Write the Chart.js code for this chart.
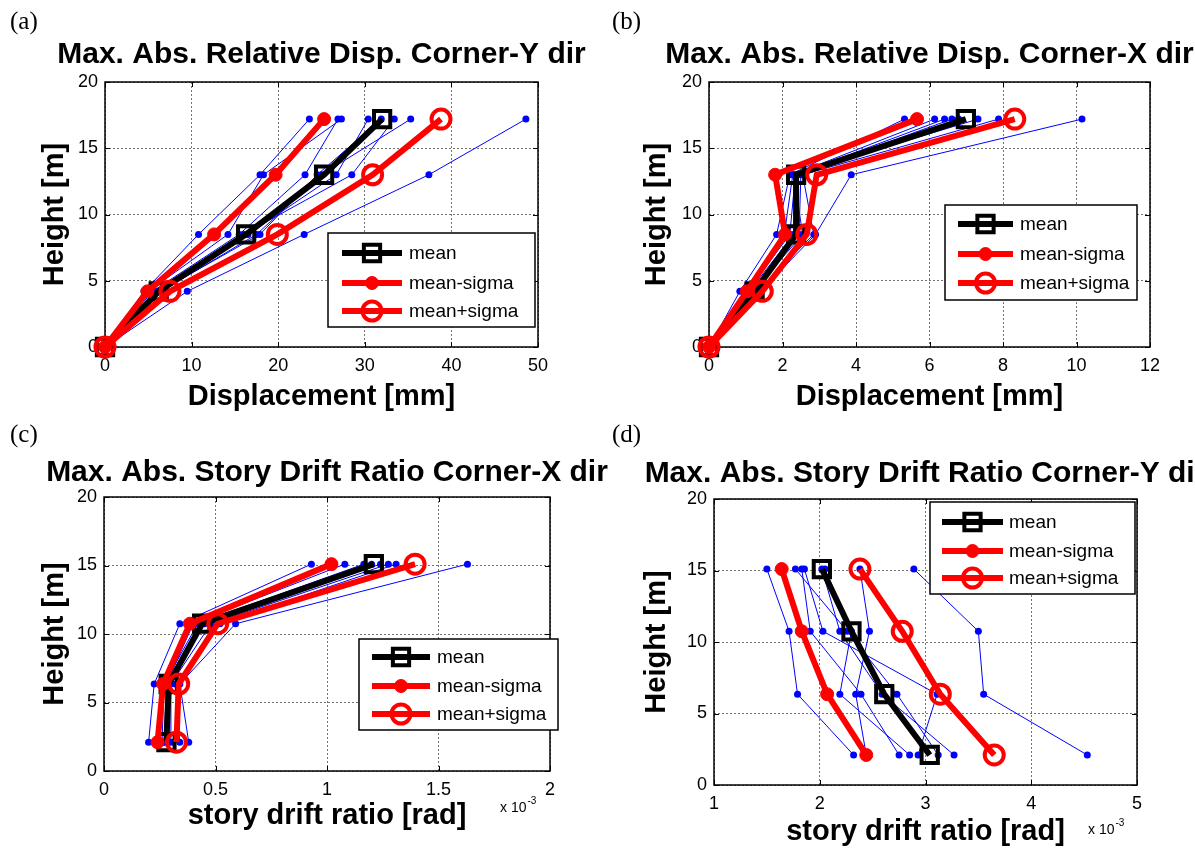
<!DOCTYPE html>
<html>
<head>
<meta charset="utf-8">
<title>Max. Abs. Relative Disp. / Story Drift Ratio</title>
<script src="https://cdn.jsdelivr.net/npm/chart.js@4.4.1/dist/chart.umd.min.js"></script>
<style>
    html, body { margin: 0; padding: 0; background: #ffffff; }
    #page { position: relative; width: 1195px; height: 852px; overflow: hidden; background: #ffffff; }
    #page canvas { position: absolute; left: 0; top: 0; }
    .tag { position: absolute; font-family: "Liberation Serif", "Times New Roman", serif; font-size: 25px; line-height: 1; color: #000; }
</style>
</head>
<body>
<div id="page">
    <canvas id="chartA" width="1195" height="852"></canvas>
    <canvas id="chartB" width="1195" height="852"></canvas>
    <canvas id="chartC" width="1195" height="852"></canvas>
    <canvas id="chartD" width="1195" height="852"></canvas>
    <div class="tag" style="left:10px;top:8px">(a)</div>
    <div class="tag" style="left:612px;top:8px">(b)</div>
    <div class="tag" style="left:10px;top:421px">(c)</div>
    <div class="tag" style="left:612px;top:421px">(d)</div>
</div>
<script>
// ===================================
// Data
// ===================================

// floor heights [m] and mid-story heights [m]
const dispHeights = [0, 4.2, 8.5, 13.0, 17.2];
const driftHeights = [2.1, 6.35, 10.75, 15.1];

const heightTicks = [0, 5, 10, 15, 20];
const dispYTicks = [0, 10, 20, 30, 40, 50];
const dispXTicks = [0, 2, 4, 6, 8, 10, 12];
const driftXTicks = [0, 0.5, 1, 1.5, 2];
const driftYTicks = [1, 2, 3, 4, 5];

const legendLabels = ['mean', 'mean-sigma', 'mean+sigma'];

// (a) relative displacement, corner Y dir [mm]
const dispYMean  = [0, 6.2, 16.3, 25.3, 32.0];
const dispYMinus = [0, 4.9, 12.6, 19.7, 25.3];
const dispYPlus  = [0, 7.5, 19.9, 30.9, 38.8];
const dispYRecords = [
    [0, 4.5, 10.8, 17.9, 23.6],
    [0, 5.0, 14.2, 18.3, 27.3],
    [0, 5.5, 15.5, 23.1, 26.9],
    [0, 6.0, 16.5, 26.7, 30.4],
    [0, 6.5, 17.5, 25.0, 35.3],
    [0, 5.8, 16.0, 28.5, 33.4],
    [0, 6.3, 17.9, 24.5, 31.9],
    [0, 9.5, 23.0, 37.4, 48.6]
];

// (b) relative displacement, corner X dir [mm]
const dispXMean  = [0, 1.24, 2.37, 2.37, 6.99];
const dispXMinus = [0, 1.03, 2.07, 1.80, 5.66];
const dispXPlus  = [0, 1.45, 2.66, 2.93, 8.32];
const dispXRecords = [
    [0, 0.84, 1.84, 2.20, 5.32],
    [0, 1.00, 2.05, 2.28, 6.14],
    [0, 1.05, 2.20, 2.35, 6.41],
    [0, 1.10, 2.30, 2.40, 6.61],
    [0, 1.15, 2.45, 2.50, 6.79],
    [0, 1.20, 2.55, 2.30, 7.32],
    [0, 1.30, 2.85, 2.55, 7.88],
    [0, 1.40, 2.90, 3.87, 10.15]
];

// (c) story drift ratio, corner X dir [x 10^-3 rad]
const driftXMean  = [0.28, 0.29, 0.44, 1.21];
const driftXMinus = [0.24, 0.265, 0.385, 1.02];
const driftXPlus  = [0.325, 0.335, 0.51, 1.395];
const driftXRecords = [
    [0.20, 0.225, 0.34, 0.93],
    [0.24, 0.26, 0.395, 1.08],
    [0.26, 0.27, 0.42, 1.165],
    [0.27, 0.28, 0.40, 1.20],
    [0.28, 0.29, 0.45, 1.24],
    [0.30, 0.30, 0.48, 1.275],
    [0.34, 0.32, 0.52, 1.31],
    [0.38, 0.34, 0.59, 1.63]
];

// (d) story drift ratio, corner Y dir [x 10^-3 rad]
const driftYMean  = [3.04, 2.61, 2.30, 2.02];
const driftYMinus = [2.44, 2.07, 1.83, 1.64];
const driftYPlus  = [3.65, 3.14, 2.78, 2.38];
const driftYRecords = [
    [2.32, 1.79, 1.71, 1.50],
    [3.12, 2.73, 2.26, 1.77],
    [2.75, 2.39, 1.91, 1.83],
    [2.93, 3.11, 2.03, 1.855],
    [3.27, 2.59, 2.19, 2.02],
    [2.85, 2.19, 2.30, 2.05],
    [2.44, 2.34, 2.47, 2.38],
    [4.53, 3.55, 3.50, 2.89]
];

// ===================================
// Styles
// ===================================

const FONT = '"Liberation Sans", Arial, Helvetica, sans-serif';
Chart.defaults.font.family = FONT;
Chart.defaults.color = '#000000';

const meanStyle  = { color: '#000000', lineWidth: 6, pointStyle: 'rect',   radius: 11.5, pointBorderWidth: 4, pointFill: 'rgba(0,0,0,0)' };
const minusStyle = { color: '#ff0000', lineWidth: 6, pointStyle: 'circle', radius: 6.5,  pointBorderWidth: 1, pointFill: '#ff0000' };
const plusStyle  = { color: '#ff0000', lineWidth: 6, pointStyle: 'circle', radius: 9.5,  pointBorderWidth: 4, pointFill: 'rgba(0,0,0,0)' };
const legendStyles = [meanStyle, minusStyle, plusStyle];

// ===================================
// Helpers
// ===================================

function pts(xs, ys) {
    return xs.map((v, i) => ({ x: v, y: ys[i] }));
}

function statDataset(label, xs, ys, st, order) {
    return {
        label: label,
        data: pts(xs, ys),
        showLine: true,
        borderColor: st.color,
        borderWidth: st.lineWidth,
        pointStyle: st.pointStyle,
        pointRadius: st.radius,
        pointBorderWidth: st.pointBorderWidth,
        pointBorderColor: st.color,
        pointBackgroundColor: st.pointFill,
        order: order,
        clip: false
    };
}

function recordDataset(xs, ys) {
    return {
        label: 'record',
        data: pts(xs, ys),
        showLine: true,
        borderColor: '#0000ff',
        borderWidth: 1,
        pointRadius: 3.5,
        pointBorderWidth: 0,
        pointBackgroundColor: '#0000ff',
        order: 3,
        clip: false
    };
}

function axisOptions(ticks, axis) {
    return {
        type: 'linear',
        position: axis === 'x' ? 'bottom' : 'left',
        min: ticks[0],
        max: ticks[ticks.length - 1],
        afterBuildTicks: s => { s.ticks = ticks.map(v => ({ value: v })); },
        afterFit: s => { if (axis === 'x') s.height = 50; else s.width = 50; },
        grid: { color: 'rgba(0,0,0,0.55)', lineWidth: 1, drawTicks: false },
        border: { display: false, dash: [2, 2] },
        ticks: {
            font: { size: 18 },
            color: '#000000',
            padding: axis === 'x' ? 8 : 7,
            maxRotation: 0,
            autoSkip: false,
            callback: v => String(v)
        }
    };
}

function drawMarker(ctx, st, x, y) {
    ctx.save();
    ctx.lineWidth = st.pointBorderWidth;
    ctx.strokeStyle = st.color;
    ctx.fillStyle = st.pointFill;
    ctx.beginPath();
    if (st.pointStyle === 'rect') {
        const s = st.radius * Math.SQRT1_2;
        ctx.rect(x - s, y - s, 2 * s, 2 * s);
    } else {
        ctx.arc(x, y, st.radius, 0, Math.PI * 2);
    }
    ctx.fill();
    ctx.stroke();
    ctx.restore();
}

// frame, inner ticks, legend box and texts (MATLAB look)
function decorPlugin(p) {
    return {
        id: 'decor',
        beforeDatasetsDraw(chart) {
            const ctx = chart.ctx;
            const a = chart.chartArea;
            const sx = chart.scales.x, sy = chart.scales.y;
            ctx.save();
            ctx.strokeStyle = '#000000';
            ctx.lineWidth = 1;
            ctx.beginPath();
            sx.ticks.forEach(t => {
                const px = Math.round(sx.getPixelForValue(t.value)) + 0.5;
                ctx.moveTo(px, a.bottom); ctx.lineTo(px, a.bottom - 5);
                ctx.moveTo(px, a.top); ctx.lineTo(px, a.top + 5);
            });
            sy.ticks.forEach(t => {
                const py = Math.round(sy.getPixelForValue(t.value)) + 0.5;
                ctx.moveTo(a.left, py); ctx.lineTo(a.left + 5, py);
                ctx.moveTo(a.right, py); ctx.lineTo(a.right - 5, py);
            });
            ctx.stroke();
            ctx.lineWidth = 1.5;
            ctx.strokeRect(a.left, a.top, a.right - a.left, a.bottom - a.top);
            ctx.restore();
        },
        afterDatasetsDraw(chart) {
            const ctx = chart.ctx;
            const L = p.legend;
            ctx.save();
            ctx.fillStyle = '#ffffff';
            ctx.fillRect(L.l, L.t, L.r - L.l, L.b - L.t);
            ctx.strokeStyle = '#000000';
            ctx.lineWidth = 1.5;
            ctx.strokeRect(L.l, L.t, L.r - L.l, L.b - L.t);
            legendStyles.forEach((st, i) => {
                const y = L.rows[i];
                ctx.beginPath();
                ctx.strokeStyle = st.color;
                ctx.lineWidth = st.lineWidth;
                ctx.moveTo(L.lineL, y);
                ctx.lineTo(L.lineR, y);
                ctx.stroke();
                drawMarker(ctx, st, (L.lineL + L.lineR) / 2, y);
                ctx.fillStyle = '#000000';
                ctx.font = '19px ' + FONT;
                ctx.textAlign = 'left';
                ctx.textBaseline = 'middle';
                ctx.fillText(legendLabels[i], L.textX, y + 1);
            });
            ctx.restore();
        },
        afterDraw(chart) {
            const ctx = chart.ctx;
            const a = chart.chartArea;
            const cx = (a.left + a.right) / 2;
            ctx.save();
            ctx.fillStyle = '#000000';
            ctx.textAlign = 'center';
            ctx.textBaseline = 'alphabetic';
            ctx.font = 'bold 30px ' + FONT;
            ctx.fillText(p.title, cx, p.titleY);
            ctx.font = 'bold 29px ' + FONT;
            ctx.fillText(p.xLabel, cx, p.xLabelY);
            ctx.save();
            ctx.translate(p.yLabelX, (a.top + a.bottom) / 2);
            ctx.rotate(-Math.PI / 2);
            ctx.fillText('Height [m]', 0, 0);
            ctx.restore();
            if (p.expo) {
                ctx.textAlign = 'left';
                ctx.font = '14px ' + FONT;
                ctx.fillText('x 10', p.expo.x, p.expo.y);
                const w = ctx.measureText('x 10').width;
                ctx.font = '10px ' + FONT;
                ctx.fillText('-3', p.expo.x + w + 1, p.expo.y - 8);
            }
            ctx.restore();
        }
    };
}

function makePanel(p) {
    const datasets = [
        statDataset(legendLabels[2], p.plus, p.heights, plusStyle, 0),
        statDataset(legendLabels[1], p.minus, p.heights, minusStyle, 1),
        statDataset(legendLabels[0], p.mean, p.heights, meanStyle, 2)
    ].concat(p.records.map(r => recordDataset(r, p.heights)));

    return new Chart(document.getElementById(p.canvas), {
        type: 'scatter',
        data: { datasets: datasets },
        options: {
            responsive: false,
            animation: false,
            events: [],
            layout: {
                padding: {
                    left: p.area.l - 50,
                    right: 1195 - p.area.r,
                    top: p.area.t,
                    bottom: 852 - p.area.b - 50
                }
            },
            plugins: {
                legend: { display: false },
                tooltip: { enabled: false }
            },
            scales: {
                x: axisOptions(p.xTicks, 'x'),
                y: axisOptions(heightTicks, 'y')
            }
        },
        plugins: [decorPlugin(p)]
    });
}

// ===================================
// Panels
// ===================================

makePanel({
    canvas: 'chartA',
    area: { l: 105, r: 538, t: 82, b: 347 },
    xTicks: dispYTicks,
    heights: dispHeights,
    mean: dispYMean, minus: dispYMinus, plus: dispYPlus, records: dispYRecords,
    title: 'Max. Abs. Relative Disp. Corner-Y dir', titleY: 63,
    xLabel: 'Displacement [mm]', xLabelY: 405,
    yLabelX: 63,
    legend: { l: 328, t: 233, r: 535, b: 327, lineL: 342, lineR: 402, textX: 409, rows: [253, 283, 311] }
});

makePanel({
    canvas: 'chartB',
    area: { l: 709, r: 1150, t: 82, b: 347 },
    xTicks: dispXTicks,
    heights: dispHeights,
    mean: dispXMean, minus: dispXMinus, plus: dispXPlus, records: dispXRecords,
    title: 'Max. Abs. Relative Disp. Corner-X dir', titleY: 63,
    xLabel: 'Displacement [mm]', xLabelY: 405,
    yLabelX: 665,
    legend: { l: 945, t: 205, r: 1137, b: 300, lineL: 958, lineR: 1013, textX: 1020, rows: [224, 254, 283] }
});

makePanel({
    canvas: 'chartC',
    area: { l: 104, r: 550, t: 497, b: 771 },
    xTicks: driftXTicks,
    heights: driftHeights,
    mean: driftXMean, minus: driftXMinus, plus: driftXPlus, records: driftXRecords,
    title: 'Max. Abs. Story Drift Ratio Corner-X dir', titleY: 481,
    xLabel: 'story drift ratio [rad]', xLabelY: 824,
    yLabelX: 63,
    expo: { x: 500, y: 812 },
    legend: { l: 359, t: 639, r: 558, b: 730, lineL: 372, lineR: 430, textX: 437, rows: [657, 686, 714] }
});

makePanel({
    canvas: 'chartD',
    area: { l: 714, r: 1137, t: 499, b: 785 },
    xTicks: driftYTicks,
    heights: driftHeights,
    mean: driftYMean, minus: driftYMinus, plus: driftYPlus, records: driftYRecords,
    title: 'Max. Abs. Story Drift Ratio Corner-Y dir', titleY: 482,
    xLabel: 'story drift ratio [rad]', xLabelY: 840,
    yLabelX: 665,
    expo: { x: 1088, y: 834 },
    legend: { l: 930, t: 502, r: 1135, b: 594, lineL: 942, lineR: 1003, textX: 1009, rows: [522, 551, 578] }
});
</script>
</body>
</html>
